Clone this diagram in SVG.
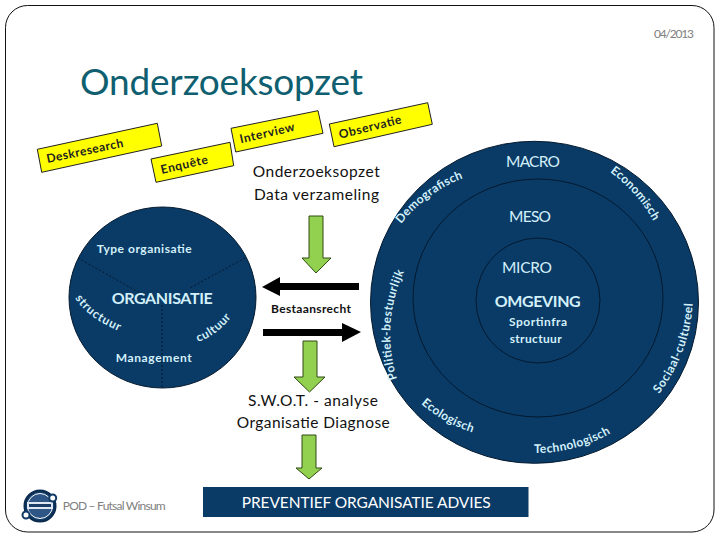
<svg xmlns="http://www.w3.org/2000/svg" width="720" height="540" viewBox="0 0 720 540">
<style>
text{font-family:Lato,"Liberation Sans",sans-serif}
.lb{fill:#d2f0fa;font-weight:700;font-size:12px}
.lm{fill:#d2f0fa;font-size:15.500px}
.h{fill:#d2f0fa;font-weight:700;font-size:16px}
.blk{fill:#111;font-size:15.500px}
.gr{fill:#808080;font-size:12px}
.y{fill:#ffff00;stroke:#222;stroke-width:1}
.yt{fill:#222;font-size:12px;font-weight:700}
.navy{fill:#0a3a66;stroke:#03192e;stroke-width:1}
.ring{fill:none;stroke:#03192e;stroke-width:1}
.dash{fill:none;stroke:#03192e;stroke-width:1;stroke-dasharray:2 2}
.ga{fill:#92d050;stroke:#2f4a12;stroke-width:1}
</style>
<defs>
<path id="pStruct" d="M75 298Q88 319 124 333"/>
<path id="pCult" d="M198 342Q221 334 237 309"/>
<path id="pDemo" d="M401 224A150 150 0 0 1 466 177"/>
<path id="pEco" d="M610 172A150 150 0 0 1 656 226"/>
<path id="pPol" d="M397 379A150 150 0 0 1 409 262"/>
<path id="pSoc" d="M659 394A165 165 0 0 0 693 296"/>
<path id="pEcol" d="M421 404A150 150 0 0 0 478 434"/>
<path id="pTech" d="M534 453A150 150 0 0 0 616 430"/>
</defs>
<rect width="720" height="540" fill="#fff"/>
<rect x="5.500" y="5.500" width="708.500" height="526.500" rx="22" ry="22" fill="none" stroke="#111" stroke-width="1"/>
<text class="gr" x="654" y="38" textLength="40">04/2013</text>
<text x="80" y="95" font-size="37" fill="#0f5f70" textLength="283">Onderzoeksopzet</text>

<g id="deskresearch"><polygon class="y" points="37.300,149.300 157.300,123.300 161.700,146 41.700,172.300"/><text class="yt" transform="translate(47.500,163) rotate(-12)" textLength="78">Deskresearch</text></g>
<g id="enquete"><polygon class="y" points="151,159 230,142.300 233.700,165.700 156,182.300"/><text class="yt" transform="translate(161.700,174) rotate(-13)" textLength="48">Enquête</text></g>
<g id="interview"><polygon class="y" points="231,128.300 318,110.700 323,133.300 235.700,152"/><text class="yt" transform="translate(240.700,143.300) rotate(-13)" textLength="56">Interview</text></g>
<g id="observatie"><polygon class="y" points="329.300,124 427.700,102.700 432.300,124.300 334,146.700"/><text class="yt" transform="translate(340,138.700) rotate(-14)" textLength="64">Observatie</text></g>

<g id="data-verzameling">
<text class="blk" x="252.700" y="177.300" textLength="127">Onderzoeksopzet</text>
<text class="blk" x="254" y="200" textLength="125">Data verzameling</text>
</g>

<g id="organisatie">
<ellipse class="navy" cx="162.500" cy="297.500" rx="93.500" ry="90.500"/>
<path class="dash" d="M78 258L140 293M245 258L190 288M162 305V388"/>
<text class="lb" x="96.700" y="252.700" textLength="95">Type organisatie</text>
<text class="h" x="111.700" y="304" textLength="101">ORGANISATIE</text>
<text class="lb" x="115.700" y="361.700" textLength="76">Management</text>
<text class="lb"><textPath href="#pStruct" textLength="56">structuur</textPath></text>
<text class="lb"><textPath href="#pCult" textLength="42">cultuur</textPath></text>
</g>

<g id="omgeving">
<ellipse class="navy" cx="534.500" cy="302.300" rx="164" ry="161"/>
<ellipse class="ring" cx="538" cy="298" rx="125" ry="119"/>
<ellipse class="ring" cx="538" cy="300.500" rx="62" ry="62.500"/>
<text class="lm" x="506" y="166.700" textLength="54">MACRO</text>
<text class="lm" x="509" y="221.700" textLength="42">MESO</text>
<text class="lm" x="502" y="272.700" textLength="50">MICRO</text>
<text class="h" x="494.700" y="306.700" textLength="86">OMGEVING</text>
<text class="lb" x="509" y="326" textLength="58">Sportinfra</text>
<text class="lb" x="509.700" y="342.700" textLength="52">structuur</text>
<text class="lb"><textPath href="#pDemo" textLength="78">Demografisch</textPath></text>
<text class="lb"><textPath href="#pEco" textLength="66">Economisch</textPath></text>
<text class="lb"><textPath href="#pPol" textLength="110">Politiek-bestuurlijk</textPath></text>
<text class="lb"><textPath href="#pSoc" textLength="98">Sociaal-cultureel</textPath></text>
<text class="lb"><textPath href="#pEcol" textLength="59">Ecologisch</textPath></text>
<text class="lb"><textPath href="#pTech" textLength="80">Technologisch</textPath></text>
</g>

<g id="connectors">
<polygon class="ga" points="309,216 323,216 323,258 331,258 316,273 302,258 309,258"/>
<polygon class="ga" points="303,341 317,341 317,377 325,377 309.500,392 294,377 303,377"/>
<polygon class="ga" points="302,435 316,435 316,468 322,468 309,479 296,468 302,468"/>
<polygon fill="#000" points="262,287 280,277 280,283 359,283 359,290 280,290 280,296"/>
<polygon fill="#000" points="263,329 342,329 342,323 361,332 342,342 342,336 263,336"/>
</g>

<g id="bestaansrecht"><text x="271" y="313" font-size="12" font-weight="700" fill="#111" textLength="80">Bestaansrecht</text></g>

<g id="swot">
<text class="blk" x="248" y="406" textLength="130">S.W.O.T. - analyse</text>
<text class="blk" x="236.700" y="427.700" textLength="153">Organisatie Diagnose</text>
</g>

<g id="advies">
<rect x="203.500" y="487.500" width="324.500" height="29" fill="#0a3a66" stroke="#0a3a66"/>
<text x="241.700" y="507.700" font-size="15.500" fill="#fff" textLength="249">PREVENTIEF ORGANISATIE ADVIES</text>
</g>

<g id="logo">
<circle cx="40" cy="506" r="15.500" fill="#123a66" stroke="#0a2a4e" stroke-width="2"/>
<circle cx="40" cy="506" r="12.500" fill="#2d5585" stroke="#fff" stroke-width="1"/>
<rect x="27" y="502" width="26" height="7" fill="#dfe8f2"/>
<rect x="29" y="504" width="22" height="3" fill="#1a3d68"/>
<circle cx="52.700" cy="498" r="3.500" fill="#fff" stroke="#123a66" stroke-width="2"/>
<circle cx="26" cy="515" r="3.500" fill="#fff" stroke="#123a66" stroke-width="2"/>
</g>
<text class="gr" x="62.700" y="510" textLength="103">POD – Futsal Winsum</text>
</svg>
